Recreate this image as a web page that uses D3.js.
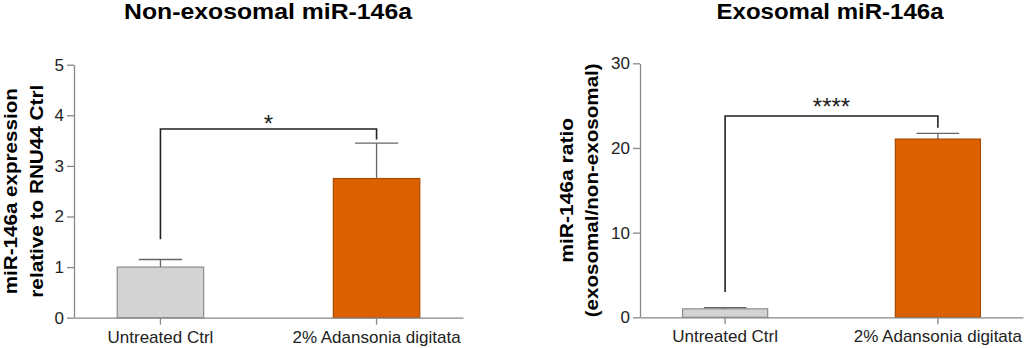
<!DOCTYPE html>
<html>
<head>
<meta charset="utf-8">
<script src="https://cdn.jsdelivr.net/npm/d3@7"></script>
<style>
  body { margin: 0; background: #fff; }
  svg { display: block; font-family: "Liberation Sans", Arial, sans-serif; }
</style>
</head>
<body>
<svg width="1024" height="348"></svg>
<script>
// data
const categories = ["Untreated Ctrl", "2% Adansonia digitata"];
const barColors = ["#d3d3d3", "#dc6000"];
const barStrokes = ["#8c8c8c", "#a84a00"];

const nonExoMean = [1.0, 2.75];
const nonExoErr = [0.15, 0.70];
const nonExoTicks = [0, 1, 2, 3, 4, 5];
const nonExoSig = { y: 3.73, left: 1.55, right: 3.52, label: "*" };

const exoMean = [1.0, 21.05];
const exoErr = [0.15, 0.68];
const exoTicks = [0, 10, 20, 30];
const exoSig = { y: 23.77, left: 3.0, right: 22.4, label: "****" };

let svg = d3.select("svg");

function drawPanel(p) {
  let g = svg.append("g");

  let x = d3.scaleBand()
    .domain(categories)
    .range([p.x0, p.x1])
    .paddingInner(0.6)
    .paddingOuter(0.2);
  let y = d3.scaleLinear()
    .domain([0, p.max])
    .range([p.y0, p.y1]);

  // title
  g.append("text")
    .attr("x", p.titleX)
    .attr("y", 19)
    .attr("text-anchor", "middle")
    .attr("textLength", p.titleW)
    .attr("lengthAdjust", "spacingAndGlyphs")
    .style("font-size", "22px")
    .style("font-weight", "bold")
    .text(p.title);

  // y axis title, two lines
  let mid = (p.y0 + p.y1) / 2;
  p.yTitle.forEach((t, i) => {
    g.append("text")
      .attr("transform", "translate(" + p.yTitleX[i] + "," + mid + ") rotate(-90)")
      .attr("text-anchor", "middle")
      .attr("textLength", p.yTitleW[i])
      .attr("lengthAdjust", "spacingAndGlyphs")
      .style("font-size", "18px")
      .style("font-weight", "bold")
      .text(t);
  });

  // y axis
  let ya = g.append("g")
    .attr("transform", "translate(" + p.x0 + ",0)")
    .call(d3.axisLeft(y).tickValues(p.ticks).tickFormat(d3.format("d"))
      .tickSize(7).tickSizeOuter(0).tickPadding(3));
  ya.select(".domain").attr("stroke", "#888").attr("stroke-width", 1.3);
  ya.selectAll(".tick line").attr("stroke", "#888").attr("stroke-width", 1.3);
  ya.selectAll(".tick text").style("font-size", "17px").attr("fill", "#222")
    .style("font-family", "'Liberation Sans', Arial, sans-serif");

  // bars
  g.selectAll("rect.bar")
    .data(p.mean)
    .enter()
    .append("rect")
      .attr("class", "bar")
      .attr("x", (d, i) => x(categories[i]))
      .attr("width", x.bandwidth())
      .attr("y", d => y(d))
      .attr("height", d => y(0) - y(d))
      .attr("fill", (d, i) => barColors[i])
      .attr("stroke", (d, i) => barStrokes[i])
      .attr("stroke-width", 1.2);

  // error bars (upper only)
  p.mean.forEach((m, i) => {
    let cx = x(categories[i]) + x.bandwidth() / 2;
    let cap = x.bandwidth() / 4;
    g.append("line")
      .attr("x1", cx).attr("x2", cx)
      .attr("y1", y(m)).attr("y2", y(m + p.err[i]))
      .attr("stroke", "#666").attr("stroke-width", 1.3);
    g.append("line")
      .attr("x1", cx - cap).attr("x2", cx + cap)
      .attr("y1", y(m + p.err[i])).attr("y2", y(m + p.err[i]))
      .attr("stroke", "#666").attr("stroke-width", 1.3);
  });

  // x axis
  let xa = g.append("g")
    .attr("transform", "translate(0," + p.y0 + ")")
    .call(d3.axisBottom(x).tickSize(7).tickSizeOuter(0).tickPadding(6));
  xa.select(".domain").attr("stroke", "#888").attr("stroke-width", 1.3);
  xa.selectAll(".tick line").attr("stroke", "#888").attr("stroke-width", 1.3);
  xa.selectAll(".tick text").style("font-size", "17px").attr("fill", "#222")
    .style("font-family", "'Liberation Sans', Arial, sans-serif");

  // significance bracket
  let lx = x(categories[0]) + x.bandwidth() / 2;
  let rx = x(categories[1]) + x.bandwidth() / 2;
  g.append("path")
    .attr("d", "M" + lx + "," + y(p.sig.left) + "V" + y(p.sig.y) + "H" + rx + "V" + y(p.sig.right))
    .attr("fill", "none")
    .attr("stroke", "#222")
    .attr("stroke-width", 1.6);
  g.append("text")
    .attr("x", (lx + rx) / 2)
    .attr("y", y(p.sig.y) + p.sigOff)
    .attr("text-anchor", "middle")
    .style("font-size", "24px")
    .attr("fill", "#222")
    .text(p.sig.label);
}

drawPanel({
  title: "Non-exosomal miR-146a", titleX: 268, titleW: 288,
  yTitle: ["miR-146a expression", "relative to RNU44 Ctrl"], yTitleX: [17, 43], yTitleW: [206, 213],
  x0: 74, x1: 463, y0: 317.7, y1: 64.7, max: 5,
  ticks: nonExoTicks, mean: nonExoMean, err: nonExoErr, sig: nonExoSig, sigOff: 3
});

drawPanel({
  title: "Exosomal miR-146a", titleX: 830, titleW: 227,
  yTitle: ["miR-146a ratio", "(exosomal/non-exosomal)"], yTitleX: [573, 598], yTitleW: [145, 254],
  x0: 640, x1: 1023, y0: 317.3, y1: 63.3, max: 30,
  ticks: exoTicks, mean: exoMean, err: exoErr, sig: exoSig, sigOff: -1
});
</script>
</body>
</html>
